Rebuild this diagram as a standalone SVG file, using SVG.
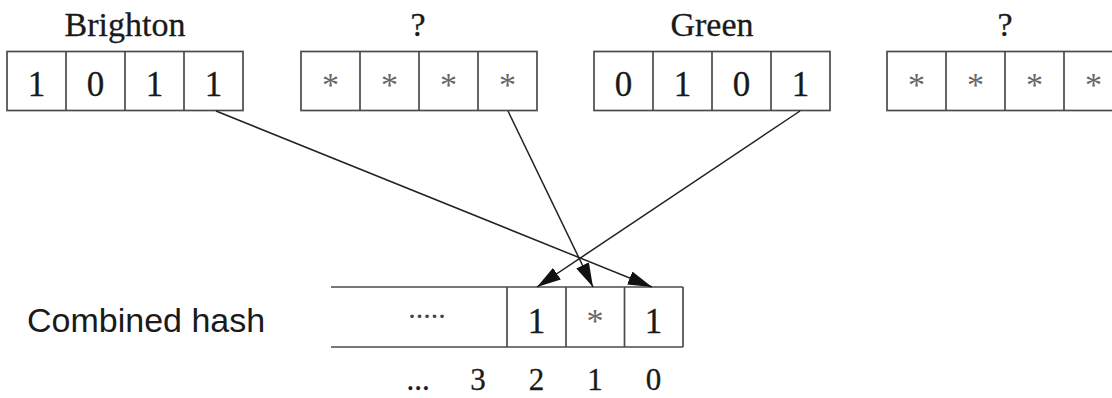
<svg xmlns="http://www.w3.org/2000/svg" width="1112" height="398" viewBox="0 0 1112 398">
  <style>
    .box { fill: #fff; stroke: #4a4a4a; stroke-width: 1.7; }
    .div { stroke: #4a4a4a; stroke-width: 1.7; }
    .lbl { font-family: "Liberation Serif", "Times New Roman", serif; font-size: 34px; fill: #1a1a1a; stroke: #1a1a1a; stroke-width: 0.3; text-anchor: middle; }
    .dig { font-family: "Liberation Serif", "Times New Roman", serif; font-size: 35px; fill: #1a1a1a; stroke: #1a1a1a; stroke-width: 0.3; text-anchor: middle; }
    .ast { font-family: "Liberation Serif", "Times New Roman", serif; font-size: 34px; fill: #666; text-anchor: middle; }
    .dots { font-family: "Liberation Serif", "Times New Roman", serif; font-size: 30px; fill: #444; text-anchor: middle; }
    .idx { font-family: "Liberation Serif", "Times New Roman", serif; font-size: 31px; fill: #1a1a1a; stroke: #1a1a1a; stroke-width: 0.3; text-anchor: middle; }
    .sans { font-family: "Liberation Sans", Arial, sans-serif; font-size: 34px; fill: #1a1a1a; }
    .conn { stroke: #222; stroke-width: 1.5; fill: none; marker-end: url(#head); }
  </style>
  <defs>
    <marker id="head" viewBox="0 0 24 14" refX="24" refY="7" markerWidth="24" markerHeight="14" markerUnits="userSpaceOnUse" orient="auto">
      <path d="M0,0 L24,7 L0,14 Z" fill="#111"/>
    </marker>
  </defs>

  <rect width="1112" height="398" fill="#fff"/>

  <!-- Brighton hash: 1 0 1 1 -->
  <g id="brighton">
    <text class="lbl" x="125" y="36">Brighton</text>
    <rect class="box" x="7" y="51.5" width="236" height="59"/>
    <line class="div" x1="66" y1="51.5" x2="66" y2="110.5"/>
    <line class="div" x1="125" y1="51.5" x2="125" y2="110.5"/>
    <line class="div" x1="184" y1="51.5" x2="184" y2="110.5"/>
    <text class="dig" x="36.5" y="96">1</text>
    <text class="dig" x="95.5" y="96">0</text>
    <text class="dig" x="154.5" y="96">1</text>
    <text class="dig" x="213.5" y="96">1</text>
  </g>

  <!-- unknown attribute: all wildcards -->
  <g id="unknown1">
    <text class="lbl" x="418" y="36">?</text>
    <rect class="box" x="301" y="51.5" width="236" height="59"/>
    <line class="div" x1="360" y1="51.5" x2="360" y2="110.5"/>
    <line class="div" x1="419" y1="51.5" x2="419" y2="110.5"/>
    <line class="div" x1="478" y1="51.5" x2="478" y2="110.5"/>
    <text class="ast" x="330.5" y="96">*</text>
    <text class="ast" x="389.5" y="96">*</text>
    <text class="ast" x="448.5" y="96">*</text>
    <text class="ast" x="507.5" y="96">*</text>
  </g>

  <!-- Green hash: 0 1 0 1 -->
  <g id="green">
    <text class="lbl" x="712" y="36">Green</text>
    <rect class="box" x="594" y="51.5" width="236" height="59"/>
    <line class="div" x1="653" y1="51.5" x2="653" y2="110.5"/>
    <line class="div" x1="712" y1="51.5" x2="712" y2="110.5"/>
    <line class="div" x1="771" y1="51.5" x2="771" y2="110.5"/>
    <text class="dig" x="623.5" y="96">0</text>
    <text class="dig" x="682.5" y="96">1</text>
    <text class="dig" x="741.5" y="96">0</text>
    <text class="dig" x="800.5" y="96">1</text>
  </g>

  <!-- second unknown attribute, runs past the right edge -->
  <g id="unknown2">
    <text class="lbl" x="1005" y="36">?</text>
    <rect class="box" x="887" y="51.5" width="236" height="59"/>
    <line class="div" x1="946" y1="51.5" x2="946" y2="110.5"/>
    <line class="div" x1="1005" y1="51.5" x2="1005" y2="110.5"/>
    <line class="div" x1="1064" y1="51.5" x2="1064" y2="110.5"/>
    <text class="ast" x="916.5" y="96">*</text>
    <text class="ast" x="975.5" y="96">*</text>
    <text class="ast" x="1034.5" y="96">*</text>
    <text class="ast" x="1093.5" y="96">*</text>
  </g>

  <!-- combined hash: open on the left -->
  <g id="combined">
    <text class="sans" x="27" y="332">Combined hash</text>
    <line class="div" x1="331" y1="287" x2="683" y2="287"/>
    <line class="div" x1="331" y1="347" x2="683" y2="347"/>
    <line class="div" x1="507" y1="287" x2="507" y2="347"/>
    <line class="div" x1="566" y1="287" x2="566" y2="347"/>
    <line class="div" x1="624.5" y1="287" x2="624.5" y2="347"/>
    <line class="div" x1="683" y1="287" x2="683" y2="347"/>
    <text class="dots" x="427" y="318">.....</text>
    <text class="dig" x="536.5" y="333">1</text>
    <text class="ast" x="595" y="332">*</text>
    <text class="dig" x="653.5" y="333">1</text>
    <text class="idx" x="418" y="390">...</text>
    <text class="idx" x="478" y="390">3</text>
    <text class="idx" x="536.5" y="390">2</text>
    <text class="idx" x="595" y="390">1</text>
    <text class="idx" x="653.5" y="390">0</text>
  </g>

  <!-- bit selections feeding the combined hash -->
  <g id="connectors">
    <line class="conn" x1="216" y1="111" x2="652" y2="287"/>
    <line class="conn" x1="508" y1="111" x2="593" y2="287"/>
    <line class="conn" x1="800" y1="111" x2="537" y2="287"/>
  </g>
</svg>
